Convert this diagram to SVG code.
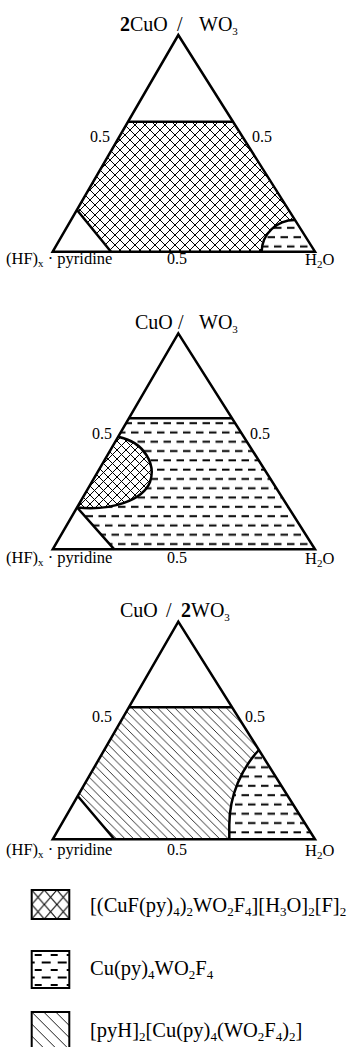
<svg xmlns="http://www.w3.org/2000/svg" width="349" height="1047" viewBox="0 0 349 1047">
<style>
text{font-family:"Liberation Serif","Times New Roman",serif;fill:#000}
.t{font-size:20px}
.l{font-size:16.5px}
.n{font-size:16px}
.g{font-size:20.5px}
.sub{font-size:11px}
.gsub{font-size:13px}
.tri{fill:none;stroke:#000;stroke-width:2.5;stroke-linejoin:miter}
.b{fill:none;stroke:#000;stroke-width:2.5}
.xh{fill:url(#xhatch);stroke:none}
.xh2{fill:url(#xhatch2);stroke:none}
.dh{fill:url(#dash);stroke:none}
.hh{fill:url(#hatch);stroke:none}
.box{stroke:#000;stroke-width:2}
</style>
<defs>
<pattern id="xhatch" width="10" height="10" patternUnits="userSpaceOnUse">
<rect width="10" height="10" fill="#fff"/>
<path d="M0,0L10,10M10,0L0,10" stroke="#000" stroke-width="1"/>
</pattern>
<pattern id="xhatch2" width="9" height="9" patternUnits="userSpaceOnUse">
<rect width="9" height="9" fill="#fff"/>
<path d="M0,0L9,9M9,0L0,9" stroke="#000" stroke-width="1"/>
</pattern>
<pattern id="dash" width="13" height="18.6" patternUnits="userSpaceOnUse">
<rect width="13" height="18.6" fill="#fff"/>
<path d="M1,4.65H8.5M7.5,13.95H13M0,13.95H2" stroke="#000" stroke-width="1.8"/>
</pattern>
<pattern id="hatch" width="8.6" height="8.6" patternUnits="userSpaceOnUse">
<rect width="8.6" height="8.6" fill="#fff"/>
<path d="M-1,-1L9.6,9.6M-1,7.6L1,9.6M7.6,-1L9.6,1" stroke="#000" stroke-width="0.8"/>
</pattern>
<pattern id="lxhatch" x="31.7" y="890" width="12.6" height="14.5" patternUnits="userSpaceOnUse">
<path d="M0,0L12.6,14.5M12.6,0L0,14.5" stroke="#000" stroke-width="1.1"/>
</pattern>
<pattern id="ldash" x="31.7" y="951" width="16" height="15" patternUnits="userSpaceOnUse">
<path d="M3,4H10M10,11.5H16M0,11.5H3" stroke="#000" stroke-width="1.8"/>
</pattern>
<pattern id="lhatch" x="31.7" y="1012" width="12" height="12" patternUnits="userSpaceOnUse">
<path d="M-1,-1L13,13M-1,11L1,13M11,-1L13,1" stroke="#000" stroke-width="0.9"/>
</pattern>
</defs>

<g id="diagram-1">
<path class="xh" d="M128.1,121.7L233,121.7L295,220A33,32 0 0 0 261.7,251.7L111,251.7L77,210Z"/>
<path class="dh" d="M295,220A33,32 0 0 0 261.7,251.7L315,251.7Z"/>
<path class="b" d="M128.1,121.7L233,121.7M77,210L111,251.7M295,220A33,32 0 0 0 261.7,251.7"/>
<polygon class="tri" points="52.7,251.7 178.3,35 315,251.7"/>
<text class="t" y="31"><tspan x="120" font-weight="bold">2</tspan><tspan>CuO</tspan><tspan x="177">/</tspan><tspan x="199">WO</tspan><tspan class="sub" dy="4">3</tspan></text>
<text class="n" x="90" y="142">0.5</text>
<text class="n" x="252" y="142">0.5</text>
<text class="n" x="167" y="264">0.5</text>
<text class="l" x="6" y="264">(HF)<tspan class="sub" dy="3">x</tspan><tspan dy="-3"> · pyridine</tspan></text>
<text class="l" x="305" y="265">H<tspan class="sub" dy="3">2</tspan><tspan dy="-3">O</tspan></text>
</g>

<g id="diagram-2">
<path class="dh" d="M128.9,418.3L232.1,418.3L315,549.3L114.3,549.3L77.1,507.5Z"/>
<path class="xh2" d="M118.2,436.7C145,442 156,465 150,482C143,500 112,511 77.1,507.5Z"/>
<path class="b" d="M128.9,418.3L232.1,418.3M77.1,507.5L114.3,549.3M118.2,436.7C145,442 156,465 150,482C143,500 112,511 77.1,507.5"/>
<polygon class="tri" points="52.7,549.3 178.3,333.3 315,549.3"/>
<text class="t" y="328.5"><tspan x="135">CuO</tspan><tspan x="178">/</tspan><tspan x="199">WO</tspan><tspan class="sub" dy="4">3</tspan></text>
<text class="n" x="92" y="439">0.5</text>
<text class="n" x="250" y="439">0.5</text>
<text class="n" x="167" y="563">0.5</text>
<text class="l" x="6" y="563">(HF)<tspan class="sub" dy="3">x</tspan><tspan dy="-3"> · pyridine</tspan></text>
<text class="l" x="305" y="564">H<tspan class="sub" dy="3">2</tspan><tspan dy="-3">O</tspan></text>
</g>

<g id="diagram-3">
<path class="hh" d="M128.9,707.3L232.1,707.3L258.9,750C242,768 229.3,795 229.3,825L229.3,839.3L114.3,839.3L77.7,796Z"/>
<path class="dh" d="M258.9,750C242,768 229.3,795 229.3,825L229.3,839.3L315,839.3Z"/>
<path class="b" d="M128.9,707.3L232.1,707.3M77.7,796L114.3,839.3M258.9,750C242,768 229.3,795 229.3,825L229.3,839.3"/>
<polygon class="tri" points="52.7,839.3 178.3,621.7 315,839.3"/>
<text class="t" y="617"><tspan x="120">CuO</tspan><tspan x="166">/</tspan><tspan x="181" font-weight="bold">2</tspan><tspan>WO</tspan><tspan class="sub" dy="4">3</tspan></text>
<text class="n" x="92" y="722">0.5</text>
<text class="n" x="245" y="722">0.5</text>
<text class="n" x="167" y="855">0.5</text>
<text class="l" x="6" y="855">(HF)<tspan class="sub" dy="3">x</tspan><tspan dy="-3"> · pyridine</tspan></text>
<text class="l" x="305" y="856">H<tspan class="sub" dy="3">2</tspan><tspan dy="-3">O</tspan></text>
</g>

<g id="legend-1">
<rect class="box" x="31.7" y="890" width="37.6" height="29" fill="url(#lxhatch)"/>
<text class="g" x="90" y="912">[(CuF(py)<tspan class="gsub" dy="4">4</tspan><tspan dy="-4">)</tspan><tspan class="gsub" dy="4">2</tspan><tspan dy="-4">WO</tspan><tspan class="gsub" dy="4">2</tspan><tspan dy="-4">F</tspan><tspan class="gsub" dy="4">4</tspan><tspan dy="-4">][H</tspan><tspan class="gsub" dy="4">3</tspan><tspan dy="-4">O]</tspan><tspan class="gsub" dy="4">2</tspan><tspan dy="-4">[F]</tspan><tspan class="gsub" dy="4">2</tspan></text>
</g>
<g id="legend-2">
<rect class="box" x="31.7" y="951" width="37.6" height="37" fill="url(#ldash)"/>
<text class="g" x="90" y="975">Cu(py)<tspan class="gsub" dy="4">4</tspan><tspan dy="-4">WO</tspan><tspan class="gsub" dy="4">2</tspan><tspan dy="-4">F</tspan><tspan class="gsub" dy="4">4</tspan></text>
</g>
<g id="legend-3">
<rect class="box" x="31.7" y="1012" width="37.6" height="40" fill="url(#lhatch)"/>
<text class="g" x="90" y="1037">[pyH]<tspan class="gsub" dy="4">2</tspan><tspan dy="-4">[Cu(py)</tspan><tspan class="gsub" dy="4">4</tspan><tspan dy="-4">(WO</tspan><tspan class="gsub" dy="4">2</tspan><tspan dy="-4">F</tspan><tspan class="gsub" dy="4">4</tspan><tspan dy="-4">)</tspan><tspan class="gsub" dy="4">2</tspan><tspan dy="-4">]</tspan></text>
</g>
<g id="connectors"/>
</svg>
